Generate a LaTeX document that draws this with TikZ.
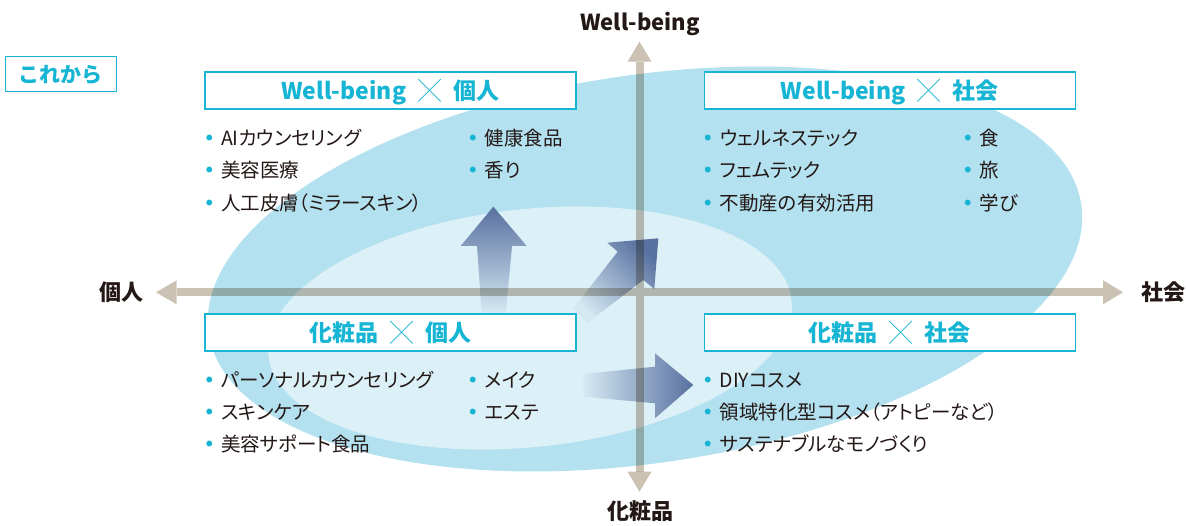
\documentclass[tikz,border=0pt]{standalone}
\usepackage{fontspec}
\setmainfont{Noto Sans CJK JP}
\newfontfamily\itemfont{Noto Sans CJK JP}[RawFeature=+palt]
\usetikzlibrary{fadings}
\definecolor{cy}{RGB}{22,181,212}
\definecolor{outerc}{RGB}{179,225,240}
\definecolor{innerc}{RGB}{220,240,248}
\definecolor{axisc}{RGB}{204,194,180}
\definecolor{arrowc}{RGB}{88,113,160}
\definecolor{txt}{RGB}{35,24,21}
\tikzfading[name=fadeup, bottom color=transparent!95, middle color=transparent!8, top color=transparent!0]
\tikzfading[name=faderight, left color=transparent!95, middle color=transparent!20, right color=transparent!0]
\newcommand\itm[1]{\makebox[15pt][l]{\raisebox{5pt}{\textcolor{cy}{\fontsize{6.5}{6.5}\selectfont ●}}}#1}
\newcommand\crs{\hspace{12pt}{\fontseries{m}\fontsize{23}{23}\selectfont ╳}\hspace{12pt}}
\begin{document}
\begin{tikzpicture}[x=1pt,y=-1pt,
  titlebox/.style={draw=cy, line width=1.4pt, fill=white, minimum width=371pt, minimum height=37pt, inner sep=0pt,
    text=cy, font=\bfseries\fontsize{23}{25}\selectfont, text height=20.2pt, text depth=2.8pt},
  item/.style={anchor=west, inner sep=0pt, text=txt, font=\itemfont\fontsize{19.5}{22}\selectfont,
    text height=17.2pt, text depth=2.3pt},
  axislab/.style={text=txt, inner sep=0pt, font=\bfseries\fontsize{22}{24}\selectfont,
    text height=19.4pt, text depth=2.6pt},
  axisshaft/.style={draw=axisc, line width=8pt},
  axishead/.style={fill=axisc},
  bigarrow/.style={fill=arrowc}
]
\useasboundingbox (0,0) rectangle (1186,525);
% ellipses
\fill[outerc, rotate around={8.4:(645,269)}] (645,269) ellipse [x radius=441pt, y radius=194pt];
\fill[innerc, rotate around={6:(530,328)}] (530,328) ellipse [x radius=263pt, y radius=119pt];
% big arrows
\fill[bigarrow, path fading=fadeup] (493.3,206.7) -- (526.7,246) -- (512,246) -- (505.7,313.3) -- (481.7,313.3) -- (477,246) -- (460.7,246) -- cycle;
\fill[bigarrow, path fading=faderight, fading angle=45] (658.3,238.3) -- (654.3,289) -- (643.3,280) -- (586.7,323.3) -- (573.3,308.3) -- (617.7,251.7) -- (607.3,242.7) -- cycle;
\fill[bigarrow, path fading=faderight] (693.3,385) -- (655,418.3) -- (655,403.3) -- (583.3,396.7) -- (583.3,374) -- (655,366.7) -- (655,353.3) -- cycle;
% axes
\coordinate (xl) at (156,292.3);
\coordinate (xr) at (1123,292.3);
\coordinate (yt) at (639.5,41.7);
\coordinate (yb) at (639.5,491.7);
\coordinate (xlb) at (176.7,292.3);
\coordinate (xrb) at (1103,292.3);
\coordinate (ytb) at (639.5,61.7);
\coordinate (ybb) at (639.5,471.7);
\begin{scope}[blend mode=multiply]
\draw[axisshaft] (xlb) -- (xrb) (ytb) -- (ybb);
\fill[axishead] (xl) -- ([yshift=12pt]xlb) -- ([yshift=-12pt]xlb) -- cycle
  (xr) -- ([yshift=12pt]xrb) -- ([yshift=-12pt]xrb) -- cycle
  (yt) -- ([xshift=12pt]ytb) -- ([xshift=-12pt]ytb) -- cycle
  (yb) -- ([xshift=12pt]ybb) -- ([xshift=-12pt]ybb) -- cycle;
\end{scope}
% axis labels
\node[axislab] (lwb) at (640,22) {Well-being};
\node[axislab] (lkesho) at (640,511) {化粧品};
\node[axislab] (lkojin) at (121,292) {個人};
\node[axislab] (lshakai) at (1163,292) {社会};
% これから
\node[draw=cy, line width=1.2pt, minimum width=111pt, minimum height=35pt, inner sep=0pt, text=cy,
  font=\bfseries\fontsize{21}{24}\selectfont, text height=18.5pt, text depth=2.5pt] (kore) at (61,74) {これから};
% title boxes
\node[titlebox] (t1) at (390.3,90.6) {Well-being\crs 個人};
\node[titlebox] (t2) at (889.7,90.6) {Well-being\crs 社会};
\node[titlebox] (t3) at (390.3,332.5) {化粧品\crs 個人};
\node[titlebox] (t4) at (889.7,332.5) {化粧品\crs 社会};
% items TL
\node[item] (a1) at (205.8,138) {\itm{AIカウンセリング}};
\node[item] (a2) at (205.8,170.5) {\itm{美容医療}};
\node[item] (a3) at (205.8,203) {\itm{人工皮膚（ミラースキン）}};
\node[item] (a4) at (469.5,138) {\itm{健康食品}};
\node[item] (a5) at (469.5,170.5) {\itm{香り}};
% items TR
\node[item] (b1) at (704.5,138) {\itm{ウェルネステック}};
\node[item] (b2) at (704.5,170.5) {\itm{フェムテック}};
\node[item] (b3) at (704.5,203) {\itm{不動産の有効活用}};
\node[item] (b4) at (964.5,138) {\itm{食}};
\node[item] (b5) at (964.5,170.5) {\itm{旅}};
\node[item] (b6) at (964.5,203) {\itm{学び}};
% items BL
\node[item] (c1) at (205.8,380) {\itm{パーソナルカウンセリング}};
\node[item] (c2) at (205.8,412.5) {\itm{スキンケア}};
\node[item] (c3) at (205.8,444.5) {\itm{美容サポート食品}};
\node[item] (c4) at (469.5,380) {\itm{メイク}};
\node[item] (c5) at (469.5,412.5) {\itm{エステ}};
% items BR
\node[item] (d1) at (704.5,380) {\itm{DIYコスメ}};
\node[item] (d2) at (704.5,412.5) {\itm{領域特化型コスメ（アトピーなど）}};
\node[item] (d3) at (704.5,444.5) {\itm{サステナブルなモノづくり}};
\end{tikzpicture}
\end{document}
